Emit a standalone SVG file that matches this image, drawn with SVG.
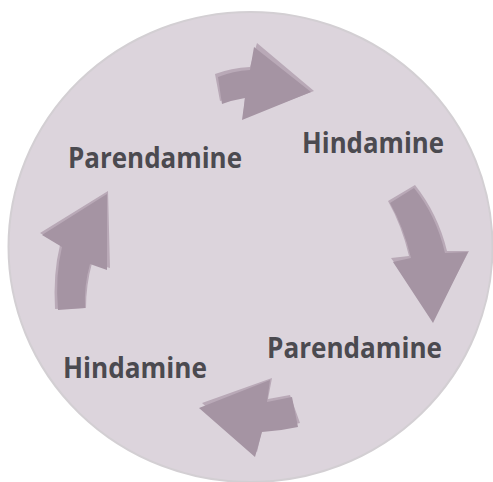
<svg xmlns="http://www.w3.org/2000/svg" width="493" height="482" viewBox="0 0 493 482">
  <style>
    .lbl { font-family: "Open Sans", "Liberation Sans", sans-serif; font-weight: 700; font-size: 28px; fill: #4b4a50; }
    .arr { fill: #a594a3; }
    .sh { fill: #b9a9b7; }
  </style>
  <rect width="493" height="482" fill="#ffffff"/>
  <g id="disc">
    <ellipse cx="250.5" cy="247" rx="242" ry="235" fill="#dcd4dc" stroke="#d3cfd3" stroke-width="2"/>
  </g>
  <g id="connectors">
    <g id="arrow-top">
      <path class="sh" d="M 215,74 Q 231,68 250,67 L 257,43 L 314,91 L 243,118 L 245,96 Q 232,98 220,101 Z"/>
      <path class="arr" d="M 218,77 Q 233,71 250,70 L 254,47 L 311,92 L 242,120 L 245,98 Q 233,100 222,104 Z"/>
    </g>
    <g id="arrow-right">
      <path class="sh" d="M 388,201 L 415,185 Q 438,214 447,251 L 469,251 L 434,318 L 391,258 L 409,256 Q 402,226 388,201 Z"/>
      <path class="arr" d="M 390,203 L 414,188 Q 436,215 445,253 L 468,252 L 433,323 L 393,262 L 411,258 Q 404,228 390,203 Z"/>
    </g>
    <g id="arrow-bottom">
      <path class="sh" d="M 202,403 L 272,378 L 268,399 L 290,395 L 300,423 Q 281,428 262,430 L 257,452 Z"/>
      <path class="arr" d="M 199,408 L 270,380 L 267,402 L 292,397 L 298,427 Q 280,431 262,432 L 255,457 Z"/>
    </g>
    <g id="arrow-left">
      <path class="sh" d="M 108,191 L 110,268 L 92,263 Q 86,285 86,308 L 55,309 Q 53,273 60,245 L 40,233 Z"/>
      <path class="arr" d="M 107,194 L 107,270 L 90,264 Q 84,285 85,308 L 58,310 Q 55,276 62,247 L 42,235 Z"/>
    </g>
  </g>
  <g id="node-parendamine-1"><text class="lbl" x="68" y="168" textLength="174" lengthAdjust="spacingAndGlyphs">Parendamine</text></g>
  <g id="node-hindamine-1"><text class="lbl" x="302" y="153" textLength="142" lengthAdjust="spacingAndGlyphs">Hindamine</text></g>
  <g id="node-parendamine-2"><text class="lbl" x="267" y="358" textLength="175" lengthAdjust="spacingAndGlyphs">Parendamine</text></g>
  <g id="node-hindamine-2"><text class="lbl" x="63" y="378" textLength="144" lengthAdjust="spacingAndGlyphs">Hindamine</text></g>
</svg>
